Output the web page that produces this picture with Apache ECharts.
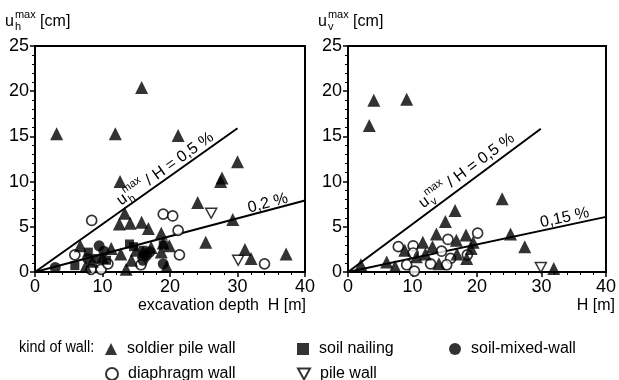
<!DOCTYPE html>
<html><head><meta charset="utf-8">
<script src="https://cdn.jsdelivr.net/npm/echarts@6/dist/echarts.min.js"></script>
<style>html,body{margin:0;padding:0;background:#fff}#c{width:619px;height:380px}</style>
</head><body><div id="c"></div>
<script>
// ---- data: [excavation depth H (m), displacement u (cm)] ----
const hSoldier = [[3.2,15.3],[11.9,15.3],[15.8,20.4],[21.2,15.1],[30.0,12.2],[27.5,10.0],[27.7,10.4],[12.6,10.0],[24.1,7.7],[13.3,6.5],[12.5,5.3],[14.1,5.4],[15.8,5.5],[16.8,4.8],[29.3,5.8],[18.7,4.3],[25.3,3.3],[31.1,2.5],[32.0,1.5],[37.2,2.0],[6.7,2.9],[11.3,2.6],[12.7,2.0],[14.3,1.3],[13.5,0.3],[19.9,2.9],[19.0,3.2],[19.5,0.6],[17.2,2.7],[16.0,2.2],[18.7,2.2],[10.0,1.6],[8.5,1.2],[15.0,2.4],[7.5,0.6]];
const hDiaphragm = [[8.4,5.7],[19.0,6.4],[20.4,6.2],[21.2,4.6],[21.4,1.9],[5.9,1.9],[34.0,0.9],[15.7,0.8],[8.3,0.3],[9.8,0.3],[10.8,0.9]];
const hNailing = [[5.9,0.7],[7.9,2.2],[9.2,1.5],[14.0,3.1],[14.6,2.8],[19.0,3.0],[10.6,1.3],[16.0,2.4]];
const hMixed = [[3.0,0.5],[9.5,2.9],[19.0,0.9],[16.5,1.8],[17.0,2.2],[10.2,2.3],[7.8,1.5],[16.0,1.3]];
const hPile = [[26.1,6.5],[30.1,1.3]];
const vSoldier = [[3.3,16.2],[4.0,19.0],[9.1,19.1],[23.9,8.1],[16.6,6.8],[15.1,5.6],[13.7,4.2],[18.3,4.1],[25.2,4.2],[27.4,2.8],[31.9,0.4],[11.6,3.3],[13.1,2.8],[16.8,3.5],[19.1,2.6],[8.8,2.4],[6.0,1.1],[2.0,0.8],[7.3,0.6],[10.6,1.7],[18.4,1.5],[16.9,2.0],[14.1,0.9],[19.4,3.3],[12.0,2.0]];
const vDiaphragm = [[7.8,2.8],[10.1,2.9],[10.1,2.1],[9.1,0.8],[10.3,0.1],[12.8,0.9],[14.5,2.3],[15.5,3.6],[15.9,1.5],[15.3,0.8],[18.5,1.9],[20.1,4.3]];
const vPile = [[29.9,0.5]];
// reference lines u/H
const hLine05 = [[0,0],[30.0,15.9]];
const hLine02 = [[0,0],[40,7.9]];
const vLine05 = [[0,0],[29.9,15.85]];
const vLine015 = [[0,0],[40,6.1]];
const xTicks = [0,10,20,30,40];
const yTicks = [0,5,10,15,20,25];
const wallTypes = ['soldier pile wall','soil nailing','soil-mixed-wall','diaphragm wall','pile wall'];

const FONT = "'Liberation Sans',Arial,sans-serif";
const FS = 18;   // tick labels
const FT = 16;   // titles, legend, annotations
const chart = echarts.init(document.getElementById('c'), null, {renderer:'canvas'});

const DOWN_TRI = 'path://M0,0L20,0L10,18Z';
const styles = {
  'soldier pile wall': {symbol:'triangle', symbolSize:13, itemStyle:{color:'#000'}},
  'soil nailing': {symbol:'rect', symbolSize:9, itemStyle:{color:'#000'}},
  'soil-mixed-wall': {symbol:'circle', symbolSize:11, itemStyle:{color:'#000'}},
  'diaphragm wall': {symbol:'circle', symbolSize:10, itemStyle:{color:'#fff', borderColor:'#000', borderWidth:1.7}},
  'pile wall': {symbol:DOWN_TRI, symbolSize:[11,10], itemStyle:{color:'#fff', borderColor:'#000', borderWidth:1.5}}
};
function sc(name, data, idx){
  return Object.assign({type:'scatter', name, data, xAxisIndex:idx, yAxisIndex:idx, silent:true}, styles[name]);
}
function ln(data, idx){
  return {type:'line', data, xAxisIndex:idx, yAxisIndex:idx, symbol:'none', silent:true,
    lineStyle:{color:'#000', width:2}, z:1};
}
function xAx(g){
  return {gridIndex:g, type:'value', min:xTicks[0], max:xTicks[xTicks.length-1], interval:xTicks[1]-xTicks[0],
    axisLine:{lineStyle:{color:'#000', width:2}},
    axisTick:{inside:false, length:5, lineStyle:{color:'#000', width:1.5}},
    minorTick:{show:true, splitNumber:5, length:3, lineStyle:{color:'#000', width:1}},
    splitLine:{show:false},
    axisLabel:{color:'#000', fontSize:FS, fontFamily:FONT, margin:6}};
}
function yAx(g){
  return {gridIndex:g, type:'value', min:yTicks[0], max:yTicks[yTicks.length-1], interval:yTicks[1]-yTicks[0],
    axisLine:{lineStyle:{color:'#000', width:2}},
    axisTick:{inside:false, length:5, lineStyle:{color:'#000', width:1.5}},
    minorTick:{show:true, splitNumber:5, length:3, lineStyle:{color:'#000', width:1}},
    splitLine:{show:false},
    axisLabel:{color:'#000', fontSize:FS, fontFamily:FONT, margin:6}};
}
function leg(name, left, top){
  return {data:[name], left, top, orient:'horizontal', itemWidth:12, itemHeight:12, itemGap:0,
    selectedMode:false, textStyle:{color:'#000', fontSize:FT, fontFamily:FONT, padding:[0,0,0,5]}};
}

chart.setOption({
  animation:false,
  backgroundColor:'#fff',
  grid:[
    {left:35, top:46, width:270, height:226, show:true, borderColor:'#000', borderWidth:2, backgroundColor:'transparent'},
    {left:348, top:46, width:265, height:226, show:true, borderColor:'#000', borderWidth:2, backgroundColor:'transparent'}
  ],
  xAxis:[xAx(0), xAx(1)],
  yAxis:[yAx(0), yAx(1)],
  legend:[
    leg(wallTypes[0], 100, 336),
    leg(wallTypes[1], 292, 336),
    leg(wallTypes[2], 444, 336),
    leg(wallTypes[3], 100, 361),
    leg(wallTypes[4], 292, 361)
  ],
  series:[
    ln(hLine05,0), ln(hLine02,0), ln(vLine05,1), ln(vLine015,1),
    sc('pile wall', hPile, 0), sc('diaphragm wall', hDiaphragm, 0), sc('soil nailing', hNailing, 0),
    sc('soil-mixed-wall', hMixed, 0), sc('soldier pile wall', hSoldier, 0),
    sc('pile wall', vPile, 1), sc('diaphragm wall', vDiaphragm, 1), sc('soldier pile wall', vSoldier, 1)
  ]
});

// ---- text annotations ----
const cv = document.createElement('canvas').getContext('2d');
function tw(t, s){ cv.font = s + 'px ' + FONT; return cv.measureText(t).width; }
function txt(t, x, y, s, align){
  return {type:'text', x, y, style:{text:t, fontSize:s, fontFamily:FONT, fill:'#000', align:align||'left', verticalAlign:'middle'}};
}
// "u" with superscript "max" and subscript, followed by rest
function uGroup(sub, rest, size, centered){
  const small = Math.round(size*0.68);
  const wu = tw('u', size), wm = tw('max', small), ws = tw(sub, small);
  const wr = tw(rest, size);
  const total = wu + 1 + Math.max(wm, ws) + wr;
  const x0 = centered ? -total/2 : 0;
  return [
    txt('u', x0, 0, size),
    txt('max', x0 + wu + 1, -size*0.42, small),
    txt(sub, x0 + wu + 1, size*0.34, small),
    txt(rest, x0 + wu + 1 + Math.max(wm, ws), 0, size)
  ];
}
function px(g, p){ return chart.convertToPixel({gridIndex:g}, p); }
function ang(g, line){
  const a = px(g, line[0]), b = px(g, line[1]);
  return Math.atan2(a[1]-b[1], b[0]-a[0]);
}
function onLine(g, line, at, children){
  const p = px(g, at);
  return {type:'group', x:p[0], y:p[1], rotation:ang(g, line), children};
}
const kindLabel = txt('kind of wall:', 19, 348, FT, 'left');
kindLabel.scaleX = 0.9;
chart.setOption({
  graphic:[
    {type:'group', x:5, y:22, children:uGroup('h', ' [cm]', FT, false)},
    {type:'group', x:318, y:22, children:uGroup('v', ' [cm]', FT, false)},
    txt('excavation depth  H [m]', 306, 306, FT, 'right'),
    txt('H [m]', 615, 306, FT, 'right'),
    kindLabel,
    onLine(0, hLine05, [19.3, 11.4], uGroup('h', ' / H = 0,5 %', FT, true)),
    onLine(0, hLine02, [34.5, 7.6], [txt('0,2 %', 0, 0, FT, 'center')]),
    onLine(1, vLine05, [18.4, 11.2], uGroup('v', ' / H = 0,5 %', FT, true)),
    onLine(1, vLine015, [33.6, 6.0], [txt('0,15 %', 0, 0, FT, 'center')])
  ]
});
</script>
</body></html>
